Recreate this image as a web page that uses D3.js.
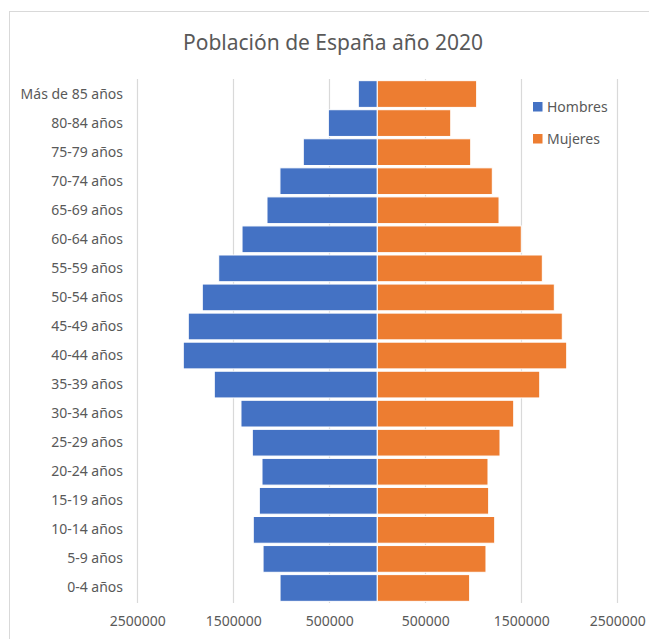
<!DOCTYPE html>
<html>
<head>
<meta charset="utf-8">
<script src="https://cdn.jsdelivr.net/npm/d3@7"></script>
<style>
  body { margin: 0; background: #fff; }
  svg { display: block; font-family: "Noto Sans", sans-serif; }
</style>
</head>
<body>
<svg id="pyramid-svg" width="649" height="639"></svg>
<script>
// Age groups, top to bottom as in the chart
const ageGroups = ["Más de 85 años", "80-84 años", "75-79 años", "70-74 años", "65-69 años",
    "60-64 años", "55-59 años", "50-54 años", "45-49 años", "40-44 años", "35-39 años",
    "30-34 años", "25-29 años", "20-24 años", "15-19 años", "10-14 años", "5-9 años", "0-4 años"];

// Population per group
const hombres = [198000, 510000, 771000, 1014000, 1149000, 1409000, 1652000, 1823000, 1969000,
    2021000, 1698000, 1420000, 1302000, 1201000, 1229000, 1292000, 1190000, 1013000];
const mujeres = [1035000, 765000, 973000, 1198000, 1268000, 1500000, 1719000, 1844000, 1927000,
    1973000, 1692000, 1421000, 1278000, 1153000, 1160000, 1223000, 1132000, 962000];

// Axis ticks (absolute values shown on both sides)
const tickValues = [-2500000, -1500000, -500000, 500000, 1500000, 2500000];

const seriesNames = ["Hombres", "Mujeres"];
const colors = ["#4472C4", "#ED7D31"];

function createPyramid() {
    const svg = d3.select("#pyramid-svg");

    // chart area frame, like the Excel chart box
    svg.append("rect")
        .attr("x", 9.5).attr("y", 11.5)
        .attr("width", 700).attr("height", 700)
        .attr("fill", "none")
        .attr("stroke", "#d9d9d9");

    const x = d3.scaleLinear()
        .domain([-2500000, 2500000])
        .range([137.3, 617.3]);

    const y = d3.scaleBand()
        .domain(ageGroups)
        .range([79.5, 602.5])
        .paddingInner(0.08)
        .paddingOuter(0.04);

    // vertical gridlines
    svg.append("g")
        .selectAll("line")
        .data(tickValues)
        .enter().append("line")
        .attr("x1", d => Math.round(x(d)) + 0.5)
        .attr("x2", d => Math.round(x(d)) + 0.5)
        .attr("y1", 79)
        .attr("y2", 603)
        .attr("stroke", "#d9d9d9")
        .attr("stroke-width", 1.2);

    // bars for men (left) and women (right)
    const rows = ageGroups.map((g, i) => ({ group: g, h: hombres[i], m: mujeres[i] }));

    svg.append("g").selectAll("rect")
        .data(rows)
        .enter().append("rect")
        .attr("x", d => x(-d.h))
        .attr("y", d => y(d.group))
        .attr("width", d => x(0) - x(-d.h))
        .attr("height", y.bandwidth())
        .attr("fill", colors[0])
        .attr("stroke", "#fff")
        .attr("stroke-width", 1);

    svg.append("g").selectAll("rect")
        .data(rows)
        .enter().append("rect")
        .attr("x", x(0))
        .attr("y", d => y(d.group))
        .attr("width", d => x(d.m) - x(0))
        .attr("height", y.bandwidth())
        .attr("fill", colors[1])
        .attr("stroke", "#fff")
        .attr("stroke-width", 1);

    // category labels
    const yAxis = d3.axisLeft(y).tickSize(0).tickPadding(0);
    const gy = svg.append("g")
        .attr("transform", "translate(123,0)")
        .call(yAxis);
    gy.select(".domain").remove();
    gy.selectAll("text")
        .attr("fill", "#595959")
        .style("font-size", "14px")
        .style("font-family", "'Noto Sans', sans-serif");

    // value labels at the bottom
    const xAxis = d3.axisBottom(x)
        .tickValues(tickValues)
        .tickSize(0)
        .tickPadding(0)
        .tickFormat(d => String(Math.abs(d)));
    const gx = svg.append("g")
        .attr("transform", "translate(0,616)")
        .call(xAxis);
    gx.select(".domain").remove();
    gx.selectAll("text")
        .attr("fill", "#595959")
        .style("font-size", "14px")
        .style("font-family", "'Noto Sans', sans-serif");

    // title
    svg.append("text")
        .attr("x", 333)
        .attr("y", 50)
        .attr("text-anchor", "middle")
        .attr("fill", "#595959")
        .style("font-size", "21px")
        .text("Población de España año 2020");

    // legend
    const legend = svg.append("g")
        .selectAll("g")
        .data(seriesNames)
        .enter().append("g")
        .attr("transform", (d, i) => `translate(533,${102 + i * 32})`);
    legend.append("rect")
        .attr("width", 9.5)
        .attr("height", 9.5)
        .attr("fill", (d, i) => colors[i]);
    legend.append("text")
        .attr("x", 14)
        .attr("y", 5)
        .attr("dy", "0.35em")
        .attr("fill", "#595959")
        .style("font-size", "14px")
        .text(d => d);
}

createPyramid();
</script>
</body>
</html>
